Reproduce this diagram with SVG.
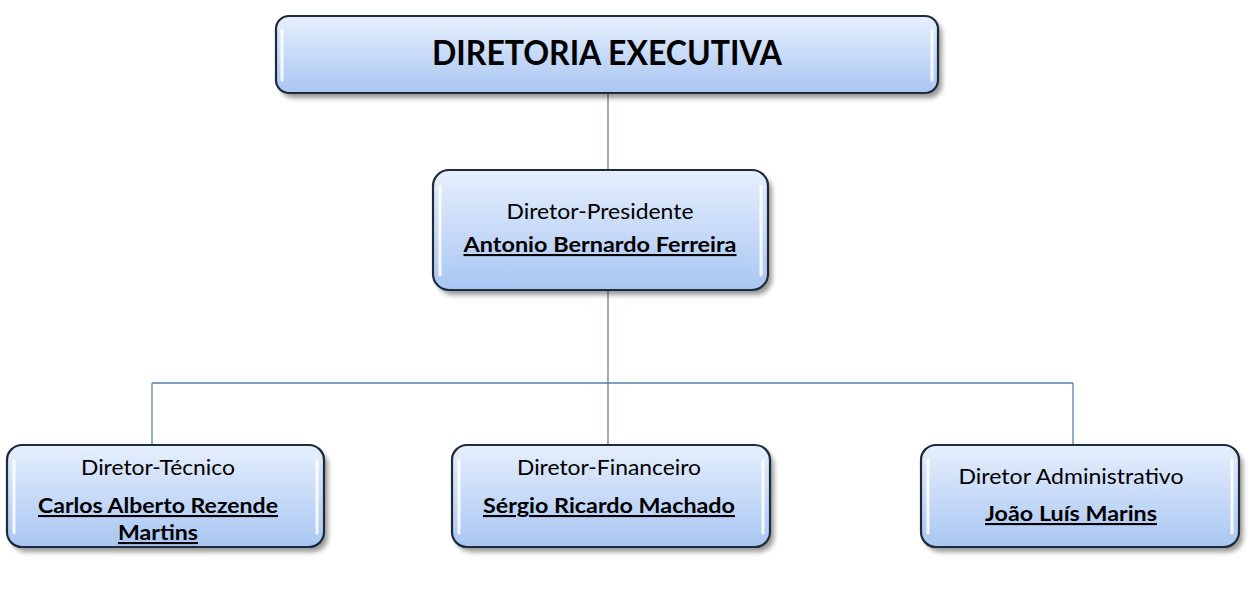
<svg xmlns="http://www.w3.org/2000/svg" width="1252" height="598" viewBox="0 0 1252 598">
<style>
.box{fill:url(#g);stroke:#1f2a3a;stroke-width:2.2}
.shadow{fill:#000;opacity:0.4;filter:url(#blur)}
.hl{stroke:#ffffff;stroke-width:3;stroke-linecap:round;opacity:0.85}
.conn{fill:none;stroke:#5b7fa8;stroke-width:1.3}
text{font-family:Lato,"Open Sans","Liberation Sans",sans-serif;fill:#000;text-anchor:middle}
.t{font-size:21px}
.b{font-size:21px;font-weight:bold;text-decoration:underline}
.h{font-size:34px;font-weight:bold}
</style>
<defs>
<linearGradient id="g" x1="0" y1="0" x2="0" y2="1">
<stop offset="0" stop-color="#e6effc"/>
<stop offset="1" stop-color="#a9c6f3"/>
</linearGradient>
<filter id="blur" x="-10%" y="-20%" width="120%" height="140%"><feGaussianBlur stdDeviation="2.5"/></filter>
</defs>
<rect width="1252" height="598" fill="#fff"/>
<g id="connectors">
<path class="conn" d="M608 93V170"/>
<path class="conn" d="M608 290V445"/>
<path class="conn" d="M152 383H1073"/>
<path class="conn" d="M152 383V445"/>
<path class="conn" d="M1073 383V445"/>
</g>
<g id="diretoria">
<rect class="shadow" x="280" y="21" width="662" height="77" rx="13"/>
<rect class="box" x="276" y="16" width="662" height="77" rx="13"/>
<line class="hl" x1="282" y1="30" x2="282" y2="80"/>
<line class="hl" x1="932" y1="30" x2="932" y2="80"/>
<text class="h" x="607" y="65" textLength="350" lengthAdjust="spacingAndGlyphs">DIRETORIA EXECUTIVA</text>
</g>
<g id="presidente">
<rect class="shadow" x="437" y="175" width="335" height="120" rx="16"/>
<rect class="box" x="433" y="170" width="335" height="120" rx="16"/>
<line class="hl" x1="440" y1="186" x2="440" y2="275"/>
<line class="hl" x1="761" y1="186" x2="761" y2="275"/>
<text class="t" x="600" y="219" textLength="187" lengthAdjust="spacingAndGlyphs">Diretor-Presidente</text>
<text class="b" x="600" y="252" textLength="273" lengthAdjust="spacingAndGlyphs">Antonio Bernardo Ferreira</text>
</g>
<g id="tecnico">
<rect class="shadow" x="11" y="450" width="317" height="102" rx="15"/>
<rect class="box" x="7" y="445" width="317" height="102" rx="15"/>
<line class="hl" x1="14" y1="460" x2="14" y2="533"/>
<line class="hl" x1="317" y1="460" x2="317" y2="533"/>
<text class="t" x="158" y="475" textLength="154" lengthAdjust="spacingAndGlyphs">Diretor-Técnico</text>
<text class="b" x="158" y="513" textLength="240" lengthAdjust="spacingAndGlyphs">Carlos Alberto Rezende</text>
<text class="b" x="158" y="540" textLength="80" lengthAdjust="spacingAndGlyphs">Martins</text>
</g>
<g id="financeiro">
<rect class="shadow" x="456" y="450" width="318" height="102" rx="15"/>
<rect class="box" x="452" y="445" width="318" height="102" rx="15"/>
<line class="hl" x1="459" y1="460" x2="459" y2="533"/>
<line class="hl" x1="763" y1="460" x2="763" y2="533"/>
<text class="t" x="609" y="475" textLength="184" lengthAdjust="spacingAndGlyphs">Diretor-Financeiro</text>
<text class="b" x="609" y="513" textLength="252" lengthAdjust="spacingAndGlyphs">Sérgio Ricardo Machado</text>
</g>
<g id="administrativo">
<rect class="shadow" x="925" y="450" width="318" height="102" rx="15"/>
<rect class="box" x="921" y="445" width="318" height="102" rx="15"/>
<line class="hl" x1="928" y1="460" x2="928" y2="533"/>
<line class="hl" x1="1232" y1="460" x2="1232" y2="533"/>
<text class="t" x="1071" y="484" textLength="225" lengthAdjust="spacingAndGlyphs">Diretor Administrativo</text>
<text class="b" x="1071" y="521" textLength="172" lengthAdjust="spacingAndGlyphs">João Luís Marins</text>
</g>
</svg>
